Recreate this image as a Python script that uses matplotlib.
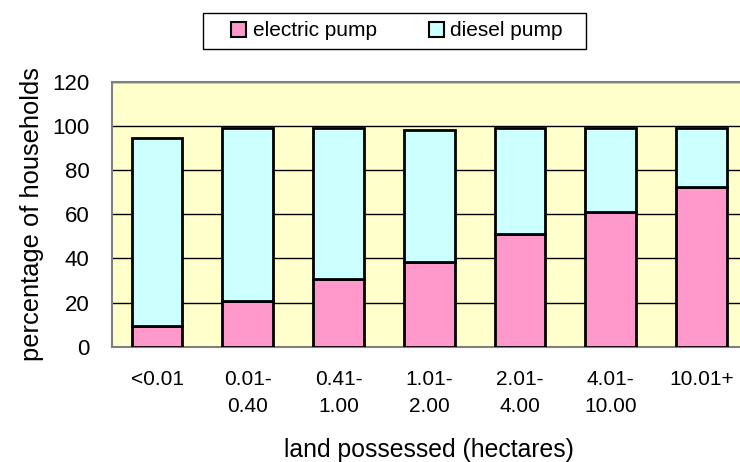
import numpy as np
import matplotlib.pyplot as plt
from matplotlib.patches import Patch, Rectangle

plt.rcParams['font.family'] = ['Liberation Sans', 'DejaVu Sans']

categories = ['<0.01', '0.01-\n0.40', '0.41-\n1.00', '1.01-\n2.00', '2.01-\n4.00', '4.01-\n10.00', '10.01+']
electric = [9.5, 20.5, 30.5, 38.5, 51, 61, 72.5]
diesel = [85, 78.5, 68.5, 59.5, 48, 38, 26.5]

pink = '#FF99CC'
cyan = '#CCFFFF'

W, H = 740, 462
fig = plt.figure(figsize=(W / 100, H / 100), dpi=100)
ax = fig.add_axes([0.151, 0.2496, 0.858, 0.5734])
ax.set_facecolor('#FFFFCC')

x = np.arange(len(categories))
ax.bar(x, electric, width=0.56, color=pink, edgecolor='black', linewidth=2, zorder=3)
ax.bar(x, diesel, width=0.56, bottom=electric, color=cyan, edgecolor='black', linewidth=2, zorder=3)

ax.set_xlim(-0.5, len(categories) - 0.5)
ax.set_ylim(0, 120)
ax.set_yticks(range(0, 121, 20))
ax.yaxis.grid(True, color='black', linewidth=1)
ax.set_axisbelow(True)

ax.set_xticks(x)
ax.set_xticklabels(categories, fontsize=15, linespacing=1.5, va='top')
ax.tick_params(axis='x', length=0, pad=17)
ax.tick_params(axis='y', length=0, pad=16, labelsize=16)

for s in ax.spines.values():
    s.set_color('#808080')
    s.set_linewidth(1.5)

ax.set_ylabel('percentage of households', fontsize=18.4, labelpad=6)
ax.set_xlabel('land possessed (hectares)', fontsize=17.8, labelpad=16)

handles = [Patch(facecolor=pink, edgecolor='black', linewidth=1.5, label='electric pump'),
           Patch(facecolor=cyan, edgecolor='black', linewidth=1.5, label='diesel pump')]
leg = fig.legend(handles=handles, loc='center', bbox_to_anchor=(397 / W, 1 - 31 / H),
                 ncol=2, fontsize=15, frameon=False,
                 handlelength=0.72, handleheight=0.72, handletextpad=0.3, columnspacing=2.5,
                 borderpad=0.4)
# legend box drawn separately so it can be wider than the entries
fig.patches.append(Rectangle((203 / W, 1 - 49.3 / H), 383 / W, 36.6 / H,
                             transform=fig.transFigure, facecolor='white',
                             edgecolor='black', linewidth=1, zorder=0))

fig.savefig('out.png', dpi=100)
